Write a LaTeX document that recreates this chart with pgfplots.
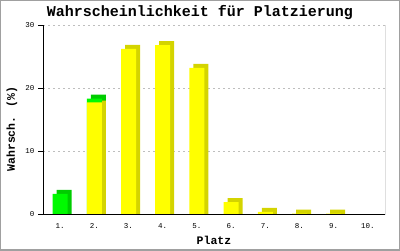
\documentclass[border=0pt]{standalone}
\usepackage{pgfplots}
\pgfplotsset{compat=1.18}
\usepackage{fontspec}
\setmainfont{Liberation Mono}
\definecolor{yel}{RGB}{255,255,0}
\definecolor{dyel}{RGB}{212,212,0}
\definecolor{grn}{RGB}{0,250,0}
\definecolor{dgrn}{RGB}{0,204,0}
\definecolor{gridc}{RGB}{190,190,190}
\definecolor{framec}{RGB}{160,160,160}
\begin{document}
\begin{tikzpicture}[x=1pt,y=1pt]
\path[use as bounding box] (0,0) rectangle (400,250);
\draw[framec, line width=2pt] (0,0) rectangle (400,250);
\begin{axis}[at={(43pt,36pt)}, anchor=south west, scale only axis,
  width=342pt, height=189pt,
  xmin=0.5, xmax=10.5, ymin=0, ymax=30,
  axis lines*=left,
  axis line style={black, line width=1pt},
  xtick={1,...,10},
  xticklabels={1.,2.,3.,4.,5.,6.,7.,8.,9.,10.},
  ytick={0,10,20,30},
  ymajorgrids, grid style={gridc, dash pattern=on 2pt off 3pt, line width=0.8pt},
  tick label style={font=\fontsize{7.5}{7.5}\selectfont},
  /pgf/number format/assume math mode=true,
  xtick style={draw=none},
  ytick style={black, line width=1pt},
  tick align=outside, major tick length=5pt,
  xticklabel style={yshift=-1pt},
]
% depth (side + top) faces
\addplot[ybar, bar width=15pt, bar shift=4pt, fill=dgrn, draw=none]
  coordinates {(1,3.83) (2,18.93)};
\addplot[ybar, bar width=15pt, bar shift=4pt, fill=dyel, draw=none]
  coordinates {(2,18.0) (3,26.83) (4,27.43) (5,23.83) (6,2.53) (7,0.98) (8,0.7) (9,0.7)};
% front faces
\addplot[ybar, bar width=15pt, bar shift=0pt, fill=grn, draw=none]
  coordinates {(1,3.2) (2,18.3)};
\addplot[ybar, bar width=15pt, bar shift=0pt, fill=yel, draw=none]
  coordinates {(2,17.7) (3,26.2) (4,26.8) (5,23.2) (6,1.9) (7,0.35) (8,0.07) (9,0.07) (10,0)};
\draw[black, line width=1pt] (rel axis cs:0,1) -- (rel axis cs:0,0) -- (rel axis cs:1,0) -- (rel axis cs:1,1);
\end{axis}
\node[font=\bfseries\fontsize{15}{15}\selectfont] at (200,237) {Wahrscheinlichkeit für Platzierung};
\node[rotate=90, font=\bfseries\fontsize{11.5}{11.5}\selectfont] at (12,121) {Wahrsch. (\%)};
\node[font=\bfseries\fontsize{11.5}{11.5}\selectfont] at (214,10) {Platz};
\end{tikzpicture}
\end{document}
